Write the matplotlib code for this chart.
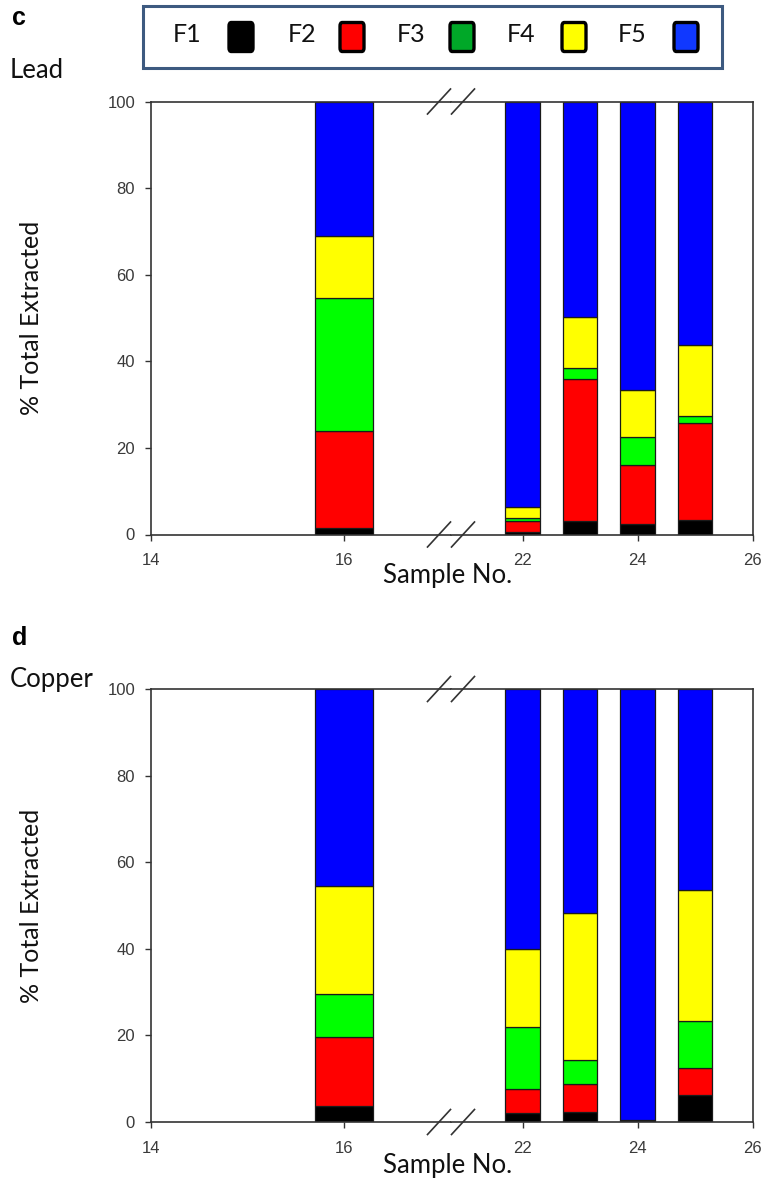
import matplotlib
matplotlib.use("Agg")
import matplotlib.pyplot as plt
from matplotlib.lines import Line2D
from matplotlib.patches import Rectangle, FancyBboxPatch
import numpy as np

# ---------------- data ----------------
samples = [16, 22, 23, 24, 25]
fractions = ["F1", "F2", "F3", "F4", "F5"]

lead_F1 = [1.4, 0.5, 3.1, 2.5, 3.4]
lead_F2 = [22.6, 2.7, 32.9, 13.5, 22.3]
lead_F3 = [30.6, 0.6, 2.5, 6.5, 1.6]
lead_F4 = [14.4, 2.5, 11.7, 10.8, 16.4]
lead_F5 = [31.0, 93.7, 49.8, 66.7, 56.3]

copper_F1 = [3.8, 2.1, 2.4, 0.5, 6.2]
copper_F2 = [15.8, 5.5, 6.4, 0.0, 6.3]
copper_F3 = [9.9, 14.3, 5.5, 0.0, 10.9]
copper_F4 = [25.0, 18.1, 33.9, 0.0, 30.1]
copper_F5 = [45.5, 60.0, 51.8, 99.5, 46.5]

left_ticks = [14, 16]
right_ticks = [22, 24, 26]
y_ticks = [0, 20, 40, 60, 80, 100]

bar_colors = ["#000000", "#ff0000", "#00ff00", "#ffff00", "#0000ff"]
legend_colors = ["#000000", "#ff0000", "#00a828", "#ffff00", "#1038ff"]

# ---------------- layout ----------------
W, H = 762, 1185
fig = plt.figure(figsize=(W / 100, H / 100), dpi=100)

X0, XB, X1 = 151, 451, 752.5          # left edge, break, right edge (pixels)
LEFT_XLIM = (14, 14 + (XB - X0) / 96.5)
RIGHT_XLIM = (26 - (X1 - XB) / 57.5, 26)

LABEL_FONT = ["Lato", "DejaVu Sans"]
TICK_FONT = ["Liberation Sans", "DejaVu Sans"]
SPINE_C = "#333333"
TICK_C = "#3a3a3a"


def rect(x0, x1, ytop, ybot):
    return [x0 / W, 1 - ybot / H, (x1 - x0) / W, (ybot - ytop) / H]


def px(x, y):
    return x / W, 1 - y / H


def draw_panel(ytop, ybot, data, letter, metal, letter_y, metal_y, xlabel_y):
    axL = fig.add_axes(rect(X0, XB, ytop, ybot))
    axR = fig.add_axes(rect(XB, X1, ytop, ybot))
    for ax, xl in ((axL, LEFT_XLIM), (axR, RIGHT_XLIM)):
        ax.set_xlim(*xl)
        ax.set_ylim(0, 100)
        bottom = np.zeros(len(samples))
        for vals, c in zip(data, bar_colors):
            ax.bar(samples, vals, width=0.6, bottom=bottom, color=c,
                   edgecolor="#1a1a1a", linewidth=0.9, zorder=2)
            bottom += np.array(vals)
        for s in ax.spines.values():
            s.set_color(SPINE_C)
            s.set_linewidth(1.2)
        ax.tick_params(direction="out", length=4.5, width=1.0, color=SPINE_C,
                       labelsize=12, labelcolor=TICK_C, pad=7)
        ax.tick_params(axis="x", pad=9)
    axL.spines["right"].set_visible(False)
    axR.spines["left"].set_visible(False)
    axL.set_xticks(left_ticks)
    axR.set_xticks(right_ticks)
    axL.set_yticks(y_ticks)
    axR.set_yticks([])
    for ax in (axL, axR):
        for lab in ax.get_xticklabels() + ax.get_yticklabels():
            lab.set_family(TICK_FONT)

    # break marks
    for yy in (ytop, ybot):
        for xx in (439, 463):
            a = px(xx - 11.5, yy + 12.5)
            b = px(xx + 11.5, yy - 12.5)
            fig.add_artist(Line2D([a[0], b[0]], [a[1], b[1]],
                                  transform=fig.transFigure, color=SPINE_C,
                                  linewidth=1.2))

    # labels
    fig.text(*px(448, xlabel_y), "Sample No.", ha="center", va="center",
             fontsize=18.5, family=LABEL_FONT, color="#111111")
    fig.text(*px(32, (ytop + ybot) / 2), "% Total Extracted", ha="center",
             va="center", rotation=90, fontsize=18, family=LABEL_FONT,
             color="#111111")
    fig.text(*px(12, letter_y), letter, ha="left", va="center", fontsize=18,
             fontweight="bold", family=TICK_FONT, color="#000000")
    fig.text(*px(10, metal_y), metal, ha="left", va="center", fontsize=18.5,
             family=LABEL_FONT, color="#111111")


draw_panel(101.5, 534.5, [lead_F1, lead_F2, lead_F3, lead_F4, lead_F5],
           "c", "Lead", 18, 70, 576)
draw_panel(689, 1122, [copper_F1, copper_F2, copper_F3, copper_F4, copper_F5],
           "d", "Copper", 638, 679, 1166)

# ---------------- legend ----------------
lx0, lx1, ly0, ly1 = 143, 722, 6, 68
x, y = px(lx0, ly1)
fig.add_artist(Rectangle((x, y), (lx1 - lx0) / W, (ly1 - ly0) / H,
                         transform=fig.transFigure, facecolor="white",
                         edgecolor="#3d5a80", linewidth=2.2))
label_x = [187, 302, 411, 521, 632]
square_x = [241, 352, 462, 574, 686]
for name, lxp, sxp, c in zip(fractions, label_x, square_x, legend_colors):
    fig.text(*px(lxp, 35), name, ha="center", va="center", fontsize=18,
             family=LABEL_FONT, color="#111111")
    w, h = 24, 29
    sx, sy = px(sxp - w / 2, 37 + h / 2)
    fig.add_artist(FancyBboxPatch((sx, sy), w / W, h / H,
                                  boxstyle="round,pad=0,rounding_size=0.003",
                                  transform=fig.transFigure, facecolor=c,
                                  edgecolor="#000000", linewidth=2.4))

fig.savefig("out.png", dpi=100)
